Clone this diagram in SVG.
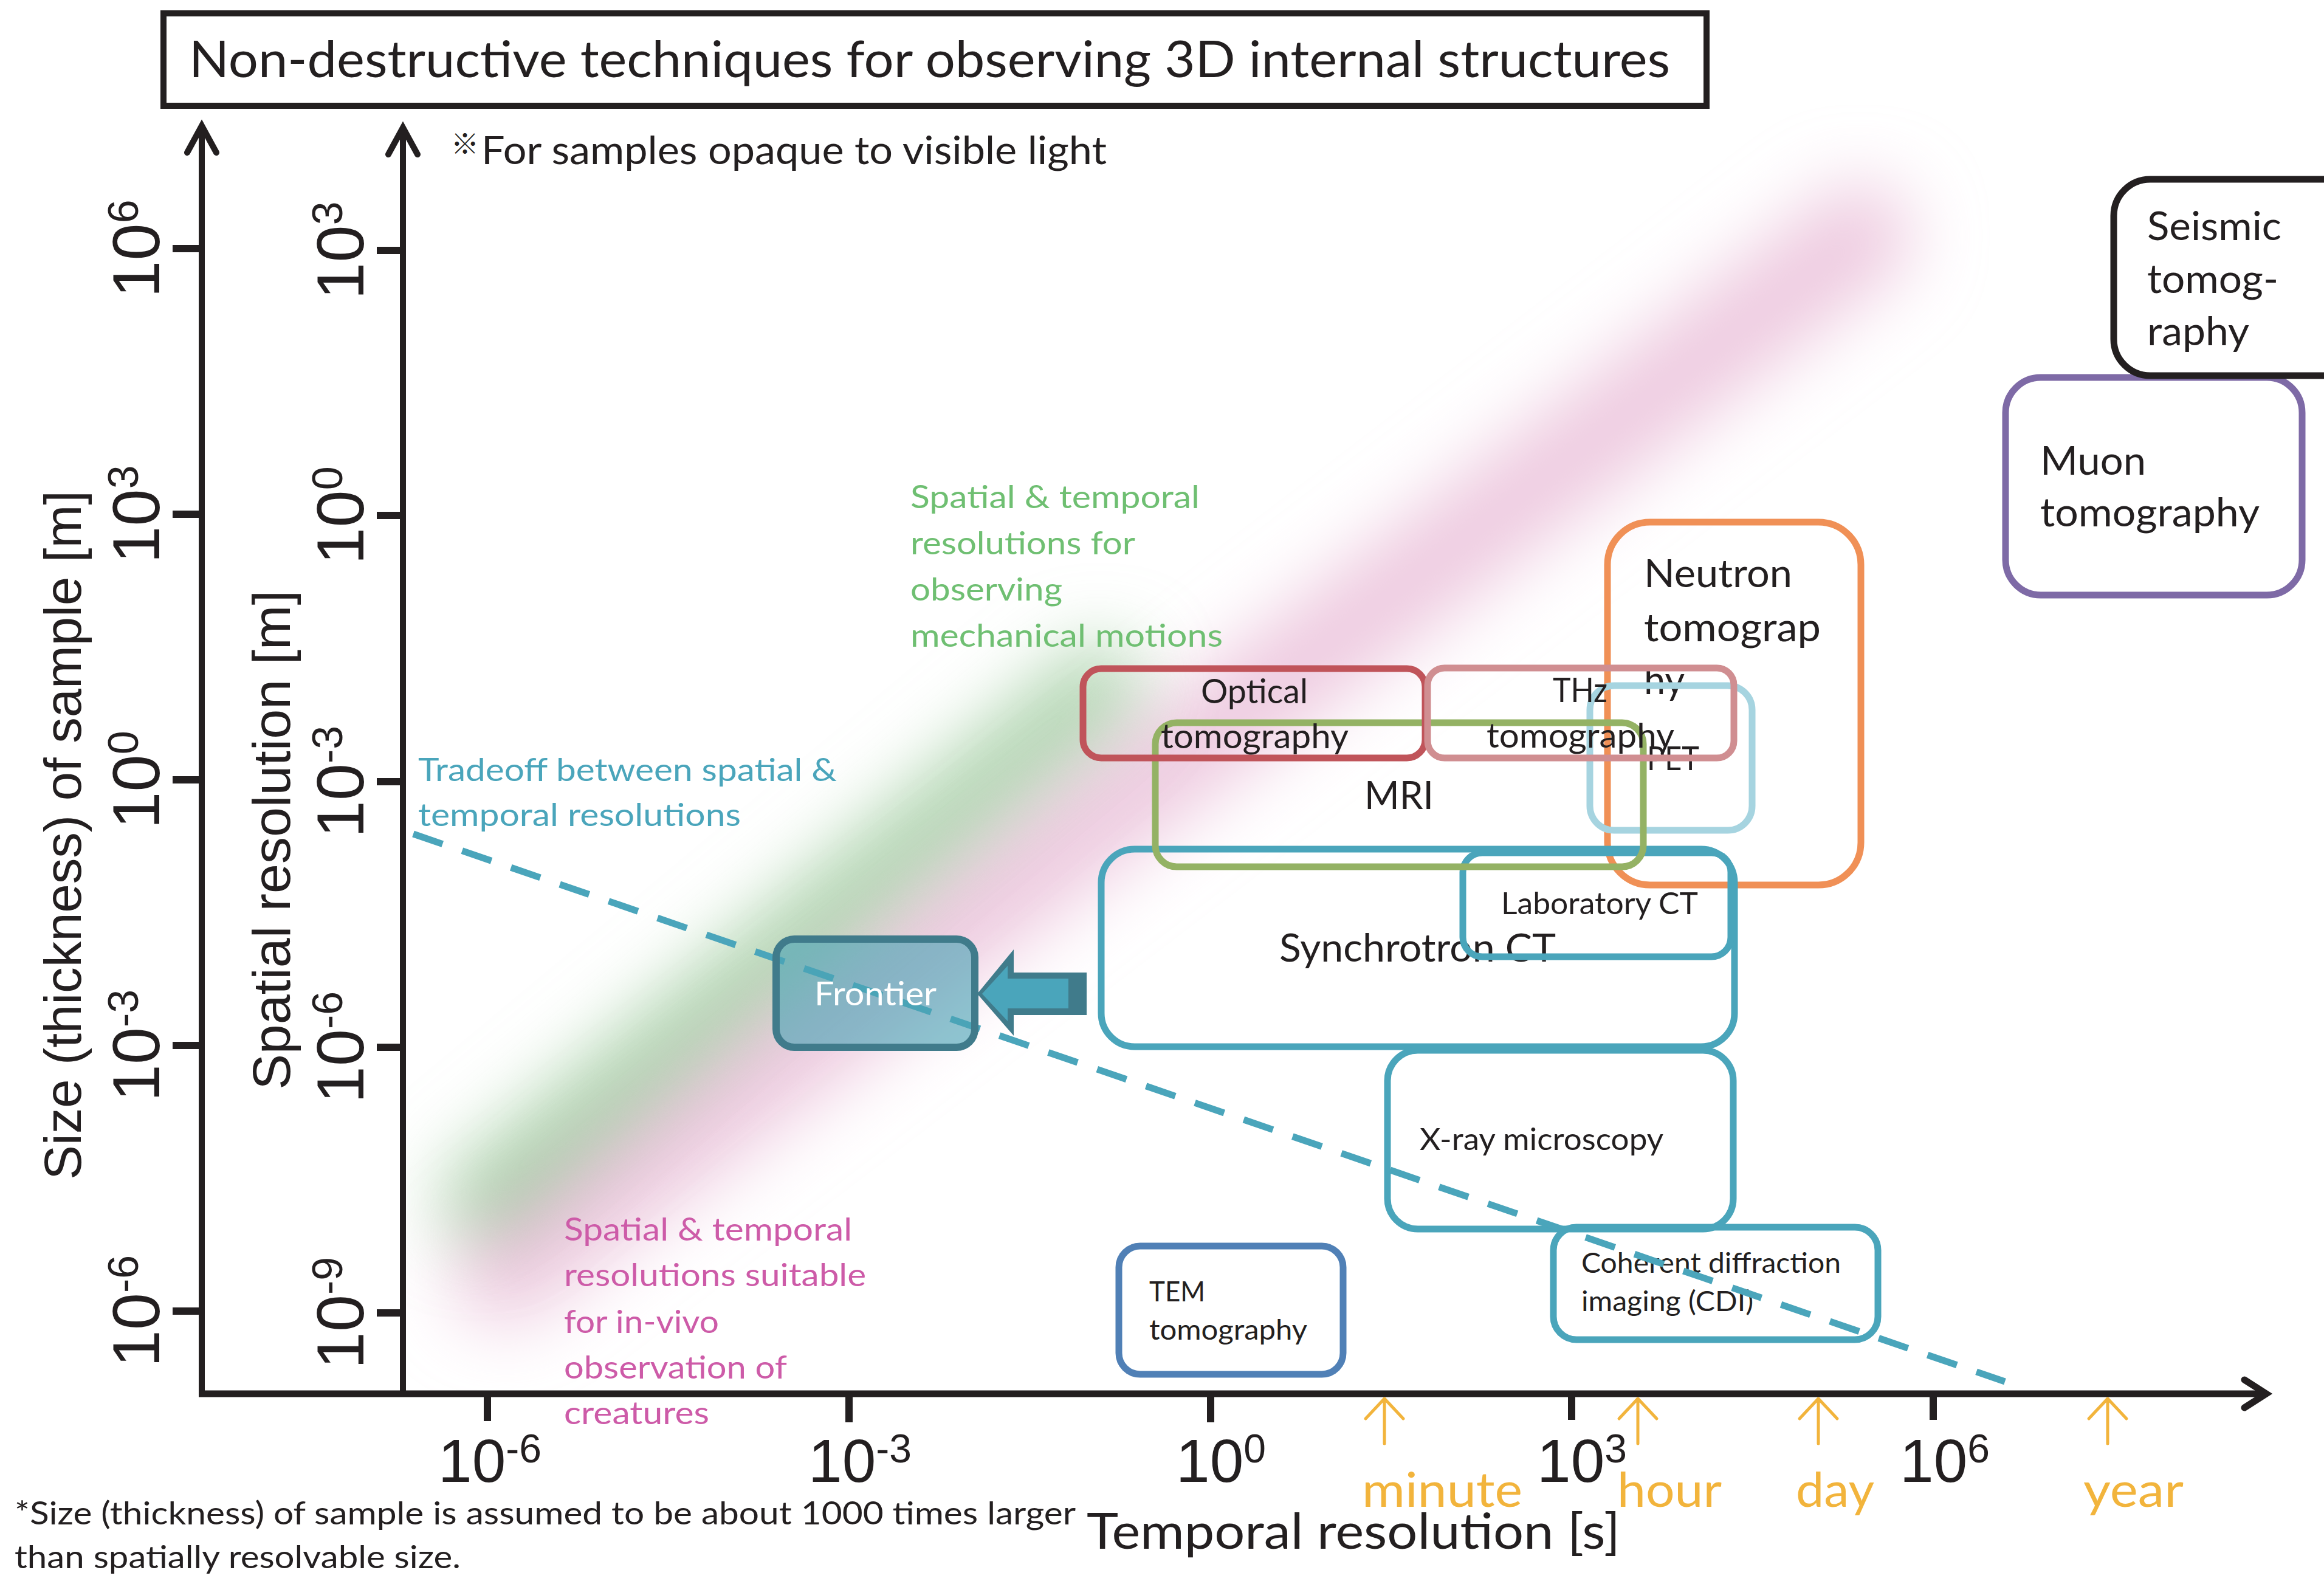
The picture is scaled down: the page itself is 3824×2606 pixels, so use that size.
<svg xmlns="http://www.w3.org/2000/svg" width="3824" height="2606" viewBox="0 0 3824 2606">
<style>
.cal{font-family:Lato,"Noto Sans",sans-serif;fill:#231f20}
.ari{font-family:"Liberation Sans",Arial,sans-serif;fill:#231f20}
.box{fill:none;stroke-width:11}
.ax{stroke:#231f20;fill:none}
.tm{stroke:#f2b43c;stroke-width:5;fill:none;stroke-linecap:round;stroke-linejoin:round}
.tml{font-family:Lato,"Noto Sans",sans-serif;fill:#f2b43c;font-size:80px}
.grn{font-family:Lato,"Noto Sans",sans-serif;fill:#6fbf72;font-size:52px}
.cyn{font-family:Lato,"Noto Sans",sans-serif;fill:#4aa5bb;font-size:53px}
.pnk{font-family:Lato,"Noto Sans",sans-serif;fill:#cd5ba8;font-size:52px}
</style>
<defs>
<clipPath id="plot"><rect x="669" y="150" width="3155" height="2138"/></clipPath>
<filter id="blurG" filterUnits="userSpaceOnUse" x="0" y="0" width="3824" height="2606"><feGaussianBlur stdDeviation="60"/></filter>
<filter id="blurP" filterUnits="userSpaceOnUse" x="0" y="0" width="3824" height="2606"><feGaussianBlur stdDeviation="58"/></filter>
</defs>
<rect x="0" y="0" width="3824" height="2606" fill="#ffffff"/>

<!-- background bands -->
<g id="bands" clip-path="url(#plot)">
<line x1="790" y1="1975" x2="1810" y2="1125" stroke="#acd3ac" stroke-width="130" stroke-linecap="round" filter="url(#blurG)"/>
<line x1="830" y1="2095" x2="3060" y2="387" stroke="#eecbe0" stroke-width="170" stroke-linecap="round" filter="url(#blurP)" style="mix-blend-mode:multiply"/>
</g>

<!-- title -->
<g id="title">
<rect x="269" y="22" width="2539" height="152" fill="none" stroke="#231f20" stroke-width="10"/>
<text class="cal" x="311" y="127" font-size="84" textLength="2437" lengthAdjust="spacingAndGlyphs">Non-destructive techniques for observing 3D internal structures</text>
</g>
<text x="742" y="253" font-size="46" font-family="'Noto Sans CJK JP','DejaVu Sans',sans-serif" fill="#231f20">※</text>
<text class="cal" x="792" y="270" font-size="63" textLength="1029" lengthAdjust="spacingAndGlyphs">For samples opaque to visible light</text>

<!-- axes -->
<g id="axes">
<line class="ax" x1="332" y1="2298" x2="332" y2="210" stroke-width="10"/>
<path class="ax" d="M308,251 L332,207 L356,251" stroke-width="10" stroke-linecap="round"/>
<line class="ax" x1="663" y1="2298" x2="663" y2="213" stroke-width="10"/>
<path class="ax" d="M639,254 L663,210 L687,254" stroke-width="10" stroke-linecap="round"/>
<line class="ax" x1="327" y1="2293" x2="3727" y2="2293" stroke-width="11"/>
<path class="ax" d="M3693,2270 L3729,2293 L3693,2316" stroke-width="11" stroke-linecap="round"/>
<g stroke="#231f20" stroke-width="12">
<line x1="284" y1="409" x2="332" y2="409"/>
<line x1="284" y1="846" x2="332" y2="846"/>
<line x1="284" y1="1283" x2="332" y2="1283"/>
<line x1="284" y1="1720" x2="332" y2="1720"/>
<line x1="284" y1="2157" x2="332" y2="2157"/>
<line x1="620" y1="412" x2="663" y2="412"/>
<line x1="620" y1="848" x2="663" y2="848"/>
<line x1="620" y1="1286" x2="663" y2="1286"/>
<line x1="620" y1="1723" x2="663" y2="1723"/>
<line x1="620" y1="2160" x2="663" y2="2160"/>
<line x1="802" y1="2293" x2="802" y2="2338"/>
<line x1="1397" y1="2293" x2="1397" y2="2340"/>
<line x1="1992" y1="2293" x2="1992" y2="2340"/>
<line x1="2586" y1="2293" x2="2586" y2="2336"/>
<line x1="3181" y1="2293" x2="3181" y2="2336"/>
</g>
<g class="ari" font-size="110" text-anchor="middle">
<text transform="translate(262,409) rotate(-90)">10<tspan dy="-35" font-size="70">6</tspan></text>
<text transform="translate(262,846) rotate(-90)">10<tspan dy="-35" font-size="70">3</tspan></text>
<text transform="translate(262,1283) rotate(-90)">10<tspan dy="-35" font-size="70">0</tspan></text>
<text transform="translate(262,1720) rotate(-90)">10<tspan dy="-35" font-size="70">-3</tspan></text>
<text transform="translate(262,2157) rotate(-90)">10<tspan dy="-35" font-size="70">-6</tspan></text>
<text transform="translate(598,412) rotate(-90)">10<tspan dy="-35" font-size="70">3</tspan></text>
<text transform="translate(598,848) rotate(-90)">10<tspan dy="-35" font-size="70">0</tspan></text>
<text transform="translate(598,1286) rotate(-90)">10<tspan dy="-35" font-size="70">-3</tspan></text>
<text transform="translate(598,1723) rotate(-90)">10<tspan dy="-35" font-size="70">-6</tspan></text>
<text transform="translate(598,2160) rotate(-90)">10<tspan dy="-35" font-size="70">-9</tspan></text>
</g>
<g class="ari" font-size="100" text-anchor="middle">
<text x="806" y="2438">10<tspan dy="-32" font-size="66">-6</tspan></text>
<text x="1415" y="2438">10<tspan dy="-32" font-size="66">-3</tspan></text>
<text x="2009" y="2438">10<tspan dy="-32" font-size="66">0</tspan></text>
<text x="2603" y="2438">10<tspan dy="-32" font-size="66">3</tspan></text>
<text x="3200" y="2438">10<tspan dy="-32" font-size="66">6</tspan></text>
</g>
<text class="ari" transform="translate(133,1374) rotate(-90)" text-anchor="middle" font-size="85">Size (thickness) of sample [m]</text>
<text class="ari" transform="translate(477,1382) rotate(-90)" text-anchor="middle" font-size="88">Spatial resolution [m]</text>
<text class="cal" x="1788" y="2548" font-size="81" textLength="878" lengthAdjust="spacingAndGlyphs">Temporal resolution [s]</text>
</g>

<!-- time markers -->
<g id="time-markers">
<path class="tm" d="M2278,2375 V2303 M2247,2334 L2278,2301 L2309,2334"/>
<path class="tm" d="M2695,2375 V2303 M2664,2334 L2695,2301 L2726,2334"/>
<path class="tm" d="M2992,2375 V2303 M2961,2334 L2992,2301 L3023,2334"/>
<path class="tm" d="M3468,2375 V2303 M3437,2334 L3468,2301 L3499,2334"/>
<text class="tml" x="2241" y="2479" textLength="264" lengthAdjust="spacingAndGlyphs">minute</text>
<text class="tml" x="2661" y="2479" textLength="172" lengthAdjust="spacingAndGlyphs">hour</text>
<text class="tml" x="2955" y="2479" textLength="129" lengthAdjust="spacingAndGlyphs">day</text>
<text class="tml" x="3428" y="2479" textLength="165" lengthAdjust="spacingAndGlyphs">year</text>
</g>

<!-- annotations -->
<g id="annot-green">
<text class="grn" x="1498" y="836" textLength="476" lengthAdjust="spacingAndGlyphs">Spatial &amp; temporal</text>
<text class="grn" x="1498" y="912" textLength="370" lengthAdjust="spacingAndGlyphs">resolutions for</text>
<text class="grn" x="1498" y="988" textLength="250" lengthAdjust="spacingAndGlyphs">observing</text>
<text class="grn" x="1498" y="1064" textLength="514" lengthAdjust="spacingAndGlyphs">mechanical motions</text>
</g>
<g id="annot-tradeoff">
<text class="cyn" x="688" y="1285" textLength="689" lengthAdjust="spacingAndGlyphs">Tradeoff between spatial &amp;</text>
<text class="cyn" x="688" y="1359" textLength="531" lengthAdjust="spacingAndGlyphs">temporal resolutions</text>
</g>
<g id="annot-pink">
<text class="pnk" x="928" y="2041" textLength="474" lengthAdjust="spacingAndGlyphs">Spatial &amp; temporal</text>
<text class="pnk" x="928" y="2116" textLength="497" lengthAdjust="spacingAndGlyphs">resolutions suitable</text>
<text class="pnk" x="928" y="2193" textLength="255" lengthAdjust="spacingAndGlyphs">for in-vivo</text>
<text class="pnk" x="928" y="2268" textLength="367" lengthAdjust="spacingAndGlyphs">observation of</text>
<text class="pnk" x="928" y="2343" textLength="239" lengthAdjust="spacingAndGlyphs">creatures</text>
</g>

<!-- nodes -->
<g id="neutron">
<rect class="box" x="2645" y="859" width="417" height="597" rx="70" stroke="#f09056"/>
<text class="cal" x="2705" y="966" font-size="63" textLength="244" lengthAdjust="spacingAndGlyphs">Neutron</text>
<text class="cal" x="2705" y="1055" font-size="63" textLength="291" lengthAdjust="spacingAndGlyphs">tomograp</text>
<text class="cal" x="2705" y="1142" font-size="63" textLength="67" lengthAdjust="spacingAndGlyphs">hy</text>
</g>
<g id="pet">
<text class="cal" x="2710" y="1267" font-size="54" textLength="86" lengthAdjust="spacingAndGlyphs">PET</text>
<rect class="box" x="2616" y="1128" width="267" height="238" rx="40" stroke="#a6d4e0"/>
</g>
<g id="synchrotron">
<rect class="box" x="1812" y="1397" width="1042" height="325" rx="55" stroke="#4aa5bb"/>
<text class="cal" x="2105" y="1582" font-size="63" textLength="455" lengthAdjust="spacingAndGlyphs">Synchrotron CT</text>
</g>
<g id="lab-ct">
<rect class="box" x="2407" y="1403" width="441" height="171" rx="32" stroke="#4aa5bb"/>
<text class="cal" x="2470" y="1504" font-size="51" textLength="324" lengthAdjust="spacingAndGlyphs">Laboratory CT</text>
</g>
<g id="xray">
<rect class="box" x="2283" y="1728" width="569" height="294" rx="50" stroke="#4aa5bb"/>
<text class="cal" x="2336" y="1892" font-size="51" textLength="401" lengthAdjust="spacingAndGlyphs">X-ray microscopy</text>
</g>
<g id="cdi">
<rect class="box" x="2556" y="2019" width="534" height="185" rx="38" stroke="#4aa5bb"/>
<text class="cal" x="2602" y="2094" font-size="47" textLength="427" lengthAdjust="spacingAndGlyphs">Coherent diffraction</text>
<text class="cal" x="2602" y="2157" font-size="47" textLength="283" lengthAdjust="spacingAndGlyphs">imaging (CDI)</text>
</g>
<g id="tem">
<rect class="box" x="1841" y="2050" width="369" height="211" rx="35" stroke="#5080b6"/>
<text class="cal" x="1891" y="2141" font-size="47" textLength="92" lengthAdjust="spacingAndGlyphs">TEM</text>
<text class="cal" x="1891" y="2204" font-size="47" textLength="260" lengthAdjust="spacingAndGlyphs">tomography</text>
</g>
<g id="mri">
<rect class="box" x="1901" y="1189" width="803" height="237" rx="35" stroke="#94b264"/>
<text class="cal" x="2245" y="1331" font-size="63" textLength="114" lengthAdjust="spacingAndGlyphs">MRI</text>
</g>
<g id="optical">
<rect class="box" x="1782" y="1100" width="563" height="147" rx="30" stroke="#c0545a"/>
<text class="cal" x="1976" y="1157" font-size="56" textLength="176" lengthAdjust="spacingAndGlyphs">Optical</text>
<text class="cal" x="1910" y="1231" font-size="56" textLength="309" lengthAdjust="spacingAndGlyphs">tomography</text>
</g>
<g id="thz">
<rect class="box" x="2349" y="1099" width="504" height="148" rx="28" stroke="#d08e91"/>
<text class="cal" x="2555" y="1155" font-size="56" textLength="90" lengthAdjust="spacingAndGlyphs">THz</text>
<text class="cal" x="2446" y="1230" font-size="56" textLength="309" lengthAdjust="spacingAndGlyphs">tomography</text>
</g>

<!-- connectors -->
<g id="connectors">
<line x1="680" y1="1372" x2="3299" y2="2273" stroke="#4aa5bb" stroke-width="11" stroke-dasharray="51 34"/>
</g>

<g id="frontier">
<rect x="1277" y="1545" width="327" height="178" rx="30" fill="#4aa3b4" fill-opacity="0.62" stroke="#407b8b" stroke-width="12"/>
<text x="1340" y="1654" font-size="55" font-family="Lato,'Noto Sans',sans-serif" fill="#ffffff" textLength="201" lengthAdjust="spacingAndGlyphs">Frontier</text>
</g>
<g id="frontier-arrow">
<polygon points="1608,1635 1668,1562 1668,1600 1788,1600 1788,1670 1668,1670 1668,1704" fill="#407b8b"/>
<polygon points="1616,1635 1658,1589 1658,1610 1758,1610 1758,1659 1658,1659 1658,1680" fill="#4aa5bb"/>
</g>

<g id="muon">
<rect class="box" x="3300" y="621" width="488" height="358" rx="58" stroke="#7e6aa6"/>
<text class="cal" x="3357" y="781" font-size="65" textLength="174" lengthAdjust="spacingAndGlyphs">Muon</text>
<text class="cal" x="3357" y="866" font-size="65" textLength="361" lengthAdjust="spacingAndGlyphs">tomography</text>
</g>
<g id="seismic">
<rect class="box" x="3478" y="295" width="500" height="323" rx="60" stroke="#231f20"/>
<text class="cal" x="3533" y="395" font-size="65" textLength="221" lengthAdjust="spacingAndGlyphs">Seismic</text>
<text class="cal" x="3533" y="482" font-size="65" textLength="216" lengthAdjust="spacingAndGlyphs">tomog-</text>
<text class="cal" x="3533" y="568" font-size="65" textLength="168" lengthAdjust="spacingAndGlyphs">raphy</text>
</g>

<!-- footnote -->
<g id="footnote">
<text class="cal" x="24" y="2508" font-size="52" textLength="1746" lengthAdjust="spacingAndGlyphs">*Size (thickness) of sample is assumed to be about 1000 times larger</text>
<text class="cal" x="24" y="2580" font-size="52" textLength="734" lengthAdjust="spacingAndGlyphs">than spatially resolvable size.</text>
</g>
</svg>
